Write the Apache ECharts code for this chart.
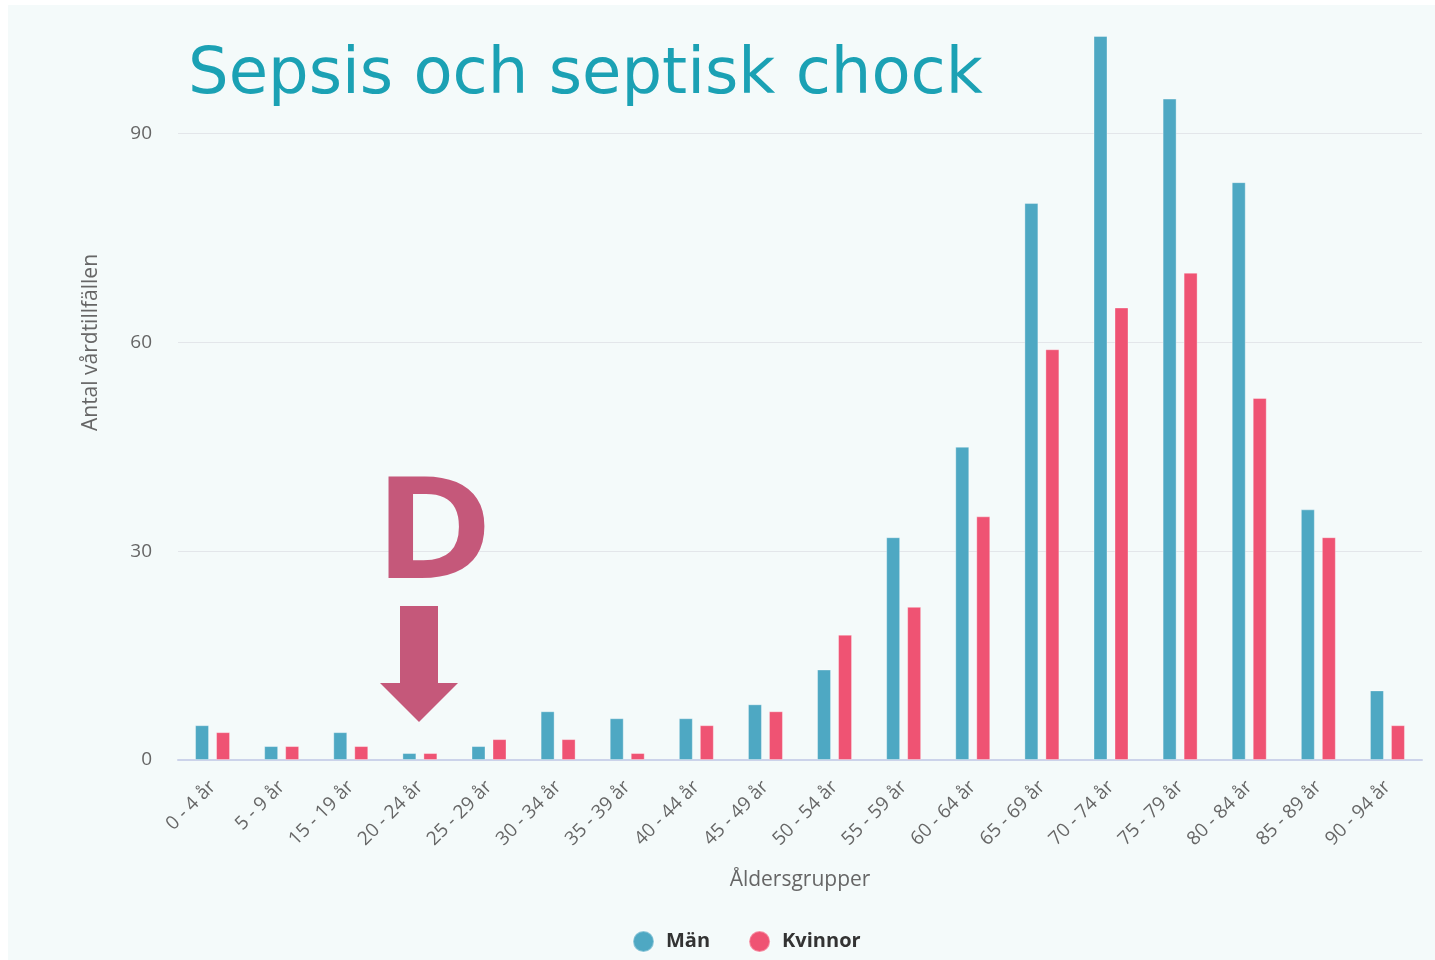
<!DOCTYPE html>
<html>
<head>
<meta charset="utf-8">
<script src="https://cdn.jsdelivr.net/npm/echarts@6/dist/echarts.min.js"></script>
<style>
  html, body { margin: 0; padding: 0; background: #ffffff; }
  #main { position: absolute; left: 8px; top: 5px; width: 1427px; height: 955px; background: #f4fafa; }
</style>
</head>
<body>
<div id="main"></div>
<script>
const ageGroups = ['0 - 4 år', '5 - 9 år', '15 - 19 år', '20 - 24 år', '25 - 29 år', '30 - 34 år',
  '35 - 39 år', '40 - 44 år', '45 - 49 år', '50 - 54 år', '55 - 59 år', '60 - 64 år',
  '65 - 69 år', '70 - 74 år', '75 - 79 år', '80 - 84 år', '85 - 89 år', '90 - 94 år'];
const man = [5, 2, 4, 1, 2, 7, 6, 6, 8, 13, 32, 45, 80, 104, 95, 83, 36, 10];
const kvinnor = [4, 2, 2, 1, 3, 3, 1, 5, 7, 18, 22, 35, 59, 65, 70, 52, 32, 5];
const yTicks = [0, 30, 60, 90];

const chart = echarts.init(document.getElementById('main'));

const font = '"Open Sans", sans-serif';
const gridColor = '#e3e6ea';

chart.setOption({
  backgroundColor: 'transparent',
  animation: false,
  title: {
    text: 'Sepsis och septisk chock',
    left: 175,
    top: 34,
    textStyle: {
      fontFamily: '"DejaVu Sans", sans-serif',
      fontSize: 64,
      fontWeight: 'normal',
      color: '#1ba1b4'
    }
  },
  legend: {
    bottom: 2,
    left: 619,
    icon: 'circle',
    itemWidth: 21,
    itemHeight: 21,
    itemGap: 38,
    textStyle: { fontFamily: font, fontSize: 20, fontWeight: 'bold', color: '#333333', padding: [0, 0, 0, 7] }
  },
  grid: { left: 170, right: 13, top: 24, bottom: 200 },
  xAxis: {
    type: 'category',
    data: ageGroups,
    name: 'Åldersgrupper',
    nameLocation: 'middle',
    nameGap: 110,
    nameTextStyle: { fontFamily: font, fontSize: 21, color: '#666666' },
    axisLine: { lineStyle: { color: '#ccd3ea', width: 2 } },
    axisTick: { show: false },
    axisLabel: { rotate: 45, margin: 24, fontFamily: font, fontSize: 19, color: '#666666', interval: 0 }
  },
  yAxis: {
    type: 'value',
    min: 0,
    max: 105,
    interval: 30,
    name: 'Antal vårdtillfällen',
    nameLocation: 'middle',
    nameGap: 76,
    nameTextStyle: { fontFamily: font, fontSize: 21, color: '#666666', padding: [0, 0, 0, 104] },
    axisLine: { show: false },
    axisTick: { show: false },
    splitLine: { lineStyle: { color: [gridColor, gridColor, gridColor, gridColor, 'rgba(0,0,0,0)'], width: 1 } },
    axisLabel: {
      margin: 26, fontFamily: font, fontSize: 19, color: '#666666', showMaxLabel: false,
      formatter: v => (yTicks.indexOf(v) >= 0 ? String(v) : '')
    }
  },
  series: [
    {
      name: 'Män', type: 'bar', data: man, barWidth: 14, barGap: '50%',
      itemStyle: { color: '#4ea8c3', borderColor: 'rgba(255,255,255,0.35)', borderWidth: 1 }
    },
    {
      name: 'Kvinnor', type: 'bar', data: kvinnor, barWidth: 14,
      itemStyle: { color: '#ef5373', borderColor: 'rgba(255,255,255,0.35)', borderWidth: 1 }
    }
  ],
  graphic: [
    {
      type: 'text',
      x: 366,
      y: 462,
      z: 100,
      scaleX: 1.14,
      style: {
        text: 'D',
        x: 0,
        y: 0,
        verticalAlign: 'top',
        font: 'bold 142px "Open Sans", sans-serif',
        fill: '#c5587a'
      }
    },
    {
      type: 'polygon',
      z: 100,
      shape: {
        points: [[392, 601], [430, 601], [430, 678], [450, 678], [411, 717], [372, 678], [392, 678]]
      },
      style: { fill: '#c5587a' }
    }
  ]
});
</script>
</body>
</html>
